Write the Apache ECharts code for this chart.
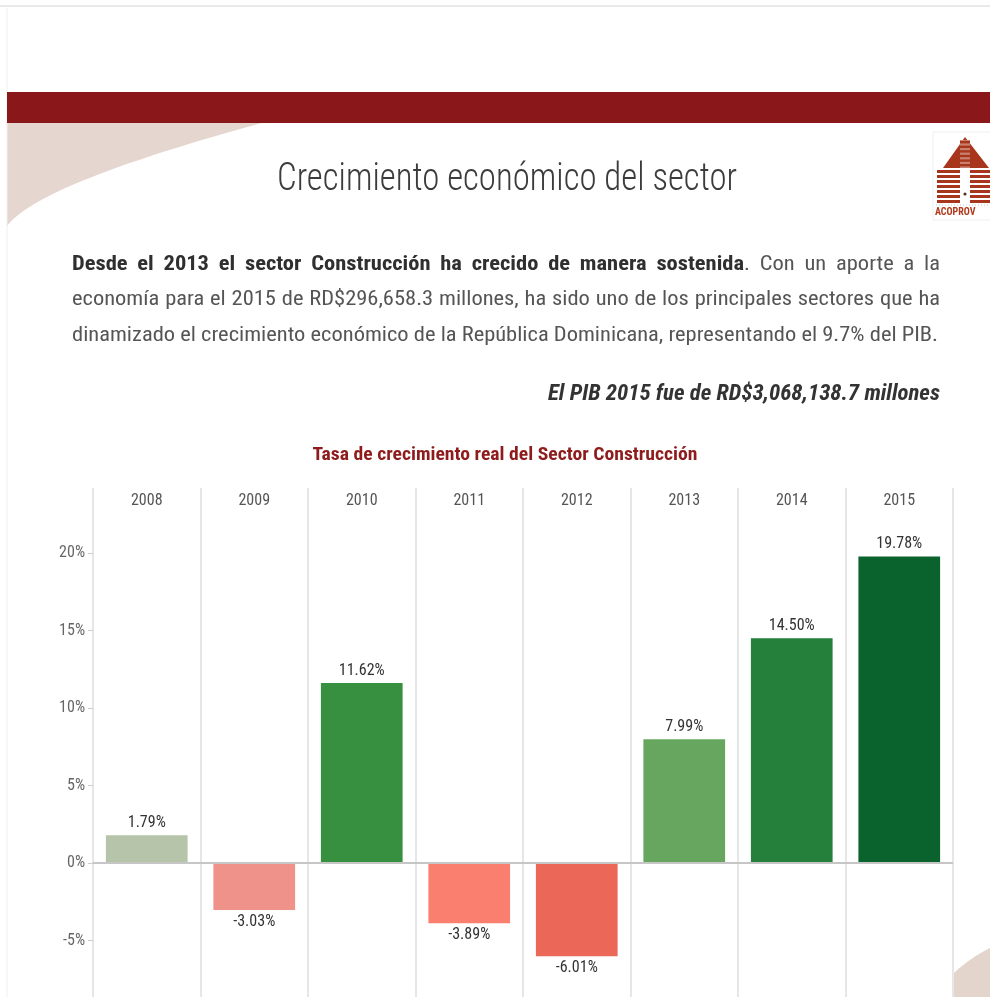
<!DOCTYPE html>
<html>
<head>
<meta charset="utf-8">
<script src="https://cdn.jsdelivr.net/npm/echarts@6/dist/echarts.min.js"></script>
<style>
  html, body { margin: 0; padding: 0; background: #ffffff; }
  #chart { width: 990px; height: 997px; }
</style>
</head>
<body>
<div id="chart"></div>
<script>
// ---- data ----
const categories = ['2008', '2009', '2010', '2011', '2012', '2013', '2014', '2015'];
const growth = [1.79, -3.03, 11.62, -3.89, -6.01, 7.99, 14.50, 19.78];
const barColors = ['#b6c4a9', '#ef9289', '#37903f', '#fa7f6f', '#eb6757', '#67a65f', '#25803b', '#0a622c'];
const yTicks = [-10, -5, 0, 5, 10, 15, 20];

// ---- texts ----
const slideTitle = 'Crecimiento económico del sector';
const chartTitle = 'Tasa de crecimiento real del Sector Construcción';
const leadBold = 'Desde el 2013 el sector Construcción ha crecido de manera sostenida';
const leadRest = 'Con un aporte a la';
const bodyLine2 = 'economía para el 2015 de RD$296,658.3 millones, ha sido uno de los principales sectores que ha';
const bodyLine3 = 'dinamizado el crecimiento económico de la República Dominicana, representando el 9.7% del PIB.';
const pibNote = 'El PIB 2015 fue de RD$3,068,138.7 millones';
const logoName = 'ACOPROV';

const FONT = '"Roboto Condensed", "Open Sans Condensed", "DejaVu Sans Condensed", sans-serif';

// canvas used only to measure text widths
const measureCtx = document.createElement('canvas').getContext('2d');
function textWidth(str, size, weight, style) {
  measureCtx.font = (style || 'normal') + ' ' + (weight || 'normal') + ' ' + size + 'px ' + FONT;
  return measureCtx.measureText(str).width;
}

// A single-line text squeezed or stretched horizontally to a target width
function fittedText(str, x, y, targetWidth, size, weight, style, color, align) {
  const natural = textWidth(str, size, weight, style);
  return {
    type: 'text', x: x, y: y, silent: true, scaleX: targetWidth / natural,
    style: {
      text: str, fontSize: size, fontWeight: weight, fontStyle: style, fontFamily: FONT, fill: color,
      align: align, verticalAlign: 'middle', textAlign: align, textVerticalAlign: 'middle'
    }
  };
}

// Justified line; each word is a list of runs [text, bold]; glyphs widened by `stretch`
function justifiedLine(words, x0, x1, y, size, stretch, colorBold, colorNormal) {
  const els = [];
  const runW = r => textWidth(r[0], size, r[1] ? 'bold' : 'normal') * stretch;
  const widths = words.map(w => w.reduce((s, r) => s + runW(r), 0));
  const total = widths.reduce((a, b) => a + b, 0);
  const gap = words.length > 1 ? (x1 - x0 - total) / (words.length - 1) : 0;
  let x = x0;
  words.forEach((w, i) => {
    let rx = x;
    w.forEach(r => {
      els.push({
        type: 'text', x: rx, y: y, silent: true, scaleX: stretch,
        style: {
          text: r[0], fontSize: size, fontFamily: FONT, fontWeight: r[1] ? 'bold' : 'normal',
          fill: r[1] ? colorBold : colorNormal,
          align: 'left', verticalAlign: 'middle', textAlign: 'left', textVerticalAlign: 'middle'
        }
      });
      rx += runW(r);
    });
    x += widths[i] + gap;
  });
  return els;
}

function plainWords(str, bold) {
  return str.split(' ').map(w => [[w, bold]]);
}

// first line: bold lead sentence, then a regular period and continuation
const line1Words = plainWords(leadBold, true);
line1Words[line1Words.length - 1].push(['.', false]);
const line1 = line1Words.concat(plainWords(leadRest, false));
const line2 = plainWords(bodyLine2, false);
const line3 = plainWords(bodyLine3, false);

// the last line sets natural spacing: widen glyphs so it fills the column
const BODY_SIZE = 20;
const bodyStretch = 866 / textWidth(bodyLine3, BODY_SIZE, 'normal');

// sampled quadratic curve for the filled corner shapes
function quadPoints(p0, c, p1, n) {
  const pts = [];
  for (let i = 0; i <= n; i++) {
    const t = i / n, u = 1 - t;
    pts.push([u * u * p0[0] + 2 * u * t * c[0] + t * t * p1[0], u * u * p0[1] + 2 * u * t * c[1] + t * t * p1[1]]);
  }
  return pts;
}

const graphics = [];
// frame lines
graphics.push({ type: 'line', silent: true, shape: { x1: 0, y1: 6, x2: 990, y2: 6 }, style: { stroke: '#d4d4d4', lineWidth: 1 } });
graphics.push({ type: 'line', silent: true, shape: { x1: 7, y1: 8, x2: 7, y2: 997 }, style: { stroke: '#f0f0f0', lineWidth: 1 } });
// beige corner shapes
graphics.push({
  type: 'polygon', silent: true, z: -1,
  shape: { points: [[7, 123]].concat(quadPoints([262, 123], [38, 184], [7, 226], 40)) },
  style: { fill: '#e5d6cf' }
});
graphics.push({
  type: 'polygon', silent: true, z: -1,
  shape: { points: [[954, 997]].concat(quadPoints([954, 973], [970, 958], [990, 948], 20)).concat([[990, 997]]) },
  style: { fill: '#e3d4cc' }
});
// header band
graphics.push({ type: 'rect', silent: true, shape: { x: 7, y: 92, width: 983, height: 31 }, style: { fill: '#8a1719' } });

// association logo
const LOGO_RED = '#a8361c';
const logo = { type: 'group', x: 930, y: 130, silent: true, children: [] };
logo.children.push({ type: 'rect', shape: { x: 3, y: 2, width: 70, height: 88 }, style: { fill: 'none', stroke: '#f1eeee', lineWidth: 1 } });
logo.children.push({ type: 'polygon', shape: { points: [[13, 38], [35, 7], [59, 38]] }, style: { fill: LOGO_RED } });
logo.children.push({ type: 'rect', shape: { x: 30, y: 10, width: 10, height: 28 }, style: { fill: '#c9826f' } });
for (let i = 0; i < 6; i++) {
  logo.children.push({ type: 'rect', shape: { x: 30, y: 11 + i * 4.6, width: 10, height: 2.4 }, style: { fill: LOGO_RED } });
}
for (let i = 0; i < 7; i++) {
  logo.children.push({ type: 'rect', shape: { x: 7, y: 40 + i * 5, width: 23, height: 3 }, style: { fill: LOGO_RED } });
  logo.children.push({ type: 'rect', shape: { x: 40, y: 40 + i * 5, width: 22, height: 3 }, style: { fill: LOGO_RED } });
}
logo.children.push({ type: 'circle', shape: { cx: 35, cy: 64, r: 1.6 }, style: { fill: '#5a3020' } });
logo.children.push({ type: 'line', shape: { x1: 6, y1: 75, x2: 62, y2: 75 }, style: { stroke: '#c8c8c8', lineWidth: 1, lineDash: [1, 2] } });
logo.children.push({
  type: 'text', x: 5, y: 82,
  style: { text: logoName, fontSize: 10, fontWeight: 'bold', fontFamily: FONT, fill: '#b2391c', align: 'left', verticalAlign: 'middle', textAlign: 'left', textVerticalAlign: 'middle' }
});
graphics.push(logo);

// slide title
graphics.push(fittedText(slideTitle, 507, 180, 460, 38, 300, 'normal', '#3c3c3c', 'center'));

// body paragraph
[].push.apply(graphics, justifiedLine(line1, 72, 940, 265, BODY_SIZE, bodyStretch, '#2f2f2f', '#555555'));
[].push.apply(graphics, justifiedLine(line2, 72, 940, 300, BODY_SIZE, bodyStretch, '#2f2f2f', '#555555'));
[].push.apply(graphics, justifiedLine(line3, 72, 938, 336, BODY_SIZE, bodyStretch, '#2f2f2f', '#555555'));

// GDP note
graphics.push(fittedText(pibNote, 940, 394, 392, 22, 'bold', 'italic', '#333333', 'right'));

// chart heading
graphics.push(fittedText(chartTitle, 505, 455, 385, 18, 'bold', 'normal', '#8e1c1c', 'center'));

const chart = echarts.init(document.getElementById('chart'), null, { renderer: 'canvas' });
chart.setOption({
  animation: false,
  backgroundColor: '#ffffff',
  graphic: { elements: graphics },
  grid: { left: 93, right: 37, top: 488, height: 530, outerBoundsMode: 'none' },
  xAxis: {
    type: 'category',
    data: categories,
    position: 'top',
    axisLine: { show: false, onZero: false },
    axisTick: { show: false },
    axisLabel: { inside: true, margin: 5, color: '#555555', fontSize: 16, fontFamily: FONT },
    splitLine: { show: true, lineStyle: { color: '#e6e6e6', width: 2 } }
  },
  yAxis: {
    type: 'value',
    min: -10,
    max: 24.2,
    axisLine: { show: false },
    axisTick: { show: true, length: 5, customValues: yTicks, lineStyle: { color: '#cccccc' } },
    axisLabel: {
      customValues: yTicks, color: '#666666', fontSize: 16, fontFamily: FONT, margin: 8,
      formatter: v => v + '%'
    },
    splitLine: { show: false }
  },
  series: [{
    type: 'bar',
    barWidth: '76%',
    data: growth.map((v, i) => ({
      value: v,
      itemStyle: { color: barColors[i] },
      label: { position: v >= 0 ? 'top' : 'bottom' }
    })),
    label: {
      show: true, distance: 4, color: '#333333', fontSize: 16, fontFamily: FONT,
      formatter: p => p.value.toFixed(2) + '%'
    },
    markLine: {
      silent: true, symbol: 'none',
      label: { show: false },
      lineStyle: { color: '#c6c6c6', width: 2, type: 'solid' },
      data: [{ yAxis: 0 }]
    }
  }]
});
</script>
</body>
</html>
